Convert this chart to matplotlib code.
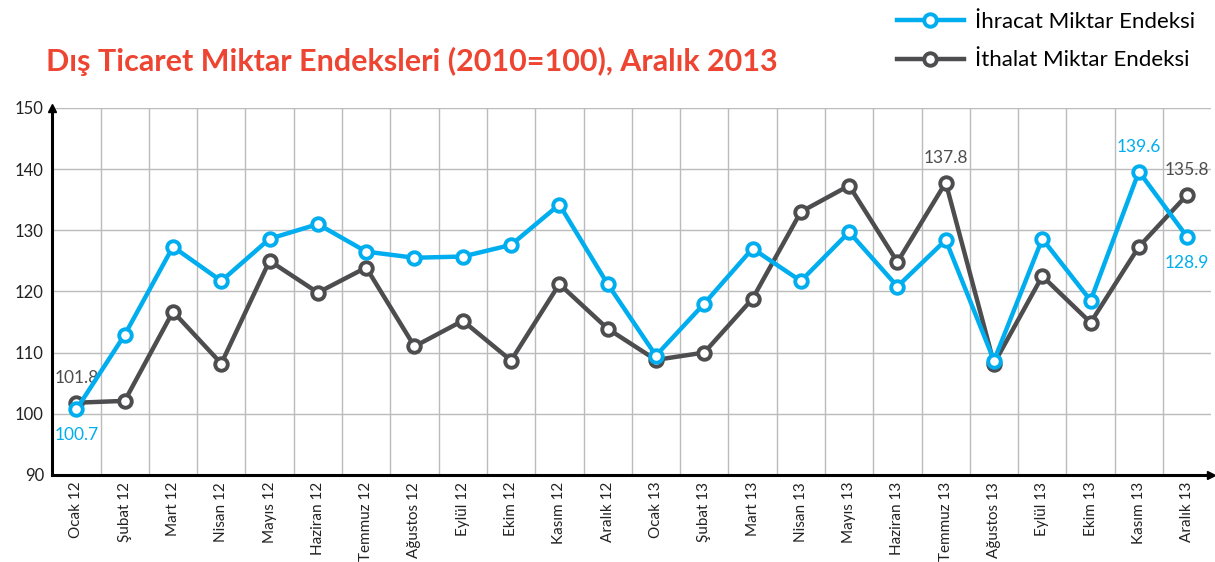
import matplotlib.pyplot as plt
import numpy as np

# Data
months = ["Ocak 12", "Şubat 12", "Mart 12", "Nisan 12", "Mayıs 12", "Haziran 12",
          "Temmuz 12", "Ağustos 12", "Eylül 12", "Ekim 12", "Kasım 12", "Aralık 12",
          "Ocak 13", "Şubat 13", "Mart 13", "Nisan 13", "Mayıs 13", "Haziran 13",
          "Temmuz 13", "Ağustos 13", "Eylül 13", "Ekim 13", "Kasım 13", "Aralık 13"]
ihracat = [100.7, 112.9, 127.3, 121.7, 128.6, 131.0, 126.5, 125.5, 125.7, 127.6, 134.2, 121.2,
           109.5, 118.0, 127.0, 121.7, 129.7, 120.8, 128.4, 108.7, 128.6, 118.5, 139.6, 128.9]
ithalat = [101.8, 102.1, 116.7, 108.2, 125.0, 119.8, 123.9, 111.0, 115.2, 108.7, 121.2, 113.9,
           108.8, 110.0, 118.8, 133.0, 137.3, 124.8, 137.8, 108.2, 122.5, 114.9, 127.3, 135.8]

blue = "#00AEEF"
dark = "#4D4D4F"
red = "#EE4532"

plt.rcParams['font.family'] = ['Lato', 'DejaVu Sans']

fig = plt.figure(figsize=(12.15, 5.62), dpi=100)
ax = fig.add_axes([0.043, 0.155, 0.954, 0.653])

x = np.arange(len(months))
l1, = ax.plot(x, ihracat, color=blue, lw=3.2, marker='o', ms=9, mfc='white', mec=blue, mew=2.8,
              label="İhracat Miktar Endeksi", zorder=4)
l2, = ax.plot(x, ithalat, color=dark, lw=3.2, marker='o', ms=9, mfc='white', mec=dark, mew=2.8,
              label="İthalat Miktar Endeksi", zorder=3)

ax.set_xlim(-0.5, len(months) - 0.5)
ax.set_ylim(90, 150)
ax.set_yticks(range(90, 151, 10))
ax.set_xticks(x)
ax.set_xticklabels(months, rotation=90, fontsize=11, color="#222222")
ax.tick_params(axis='y', labelsize=12, length=0, pad=6, colors="#222222")
ax.tick_params(axis='x', length=0, pad=5)

# grid: horizontal at ticks, vertical between months
for yv in range(100, 151, 10):
    ax.axhline(yv, color="#BBBBBB", lw=1, zorder=0)
for xv in np.arange(0.5, len(months) - 0.5, 1):
    ax.axvline(xv, color="#BBBBBB", lw=1, zorder=0)

for s in ["top", "right"]:
    ax.spines[s].set_visible(False)
ax.spines["left"].set_linewidth(2.2)
ax.spines["bottom"].set_linewidth(2.2)
ax.plot(1, 0, ">k", transform=ax.transAxes, clip_on=False, ms=6)
ax.plot(0, 1, "^k", transform=ax.transAxes, clip_on=False, ms=6)

# value labels
def lab(i, vals, text, color, above):
    ax.annotate(text, (x[i], vals[i]), xytext=(0, 12 if above else -13), textcoords="offset points",
                ha="center", va="bottom" if above else "top", fontsize=12.5, color=color)

lab(0, ithalat, "101.8", dark, True)
lab(0, ihracat, "100.7", blue, False)
lab(18, ithalat, "137.8", dark, True)
lab(22, ihracat, "139.6", blue, True)
lab(23, ithalat, "135.8", dark, True)
lab(23, ihracat, "128.9", blue, False)

fig.text(0.038, 0.89, "Dış Ticaret Miktar Endeksleri (2010=100), Aralık 2013",
         fontsize=22, fontweight="bold", color=red, va="center")

fig.legend(handles=[l1, l2], loc="upper right", bbox_to_anchor=(1.0, 1.015), frameon=False,
           fontsize=16, handlelength=3.0, labelspacing=0.85, handletextpad=0.5)

fig.savefig("out.png", dpi=100)
